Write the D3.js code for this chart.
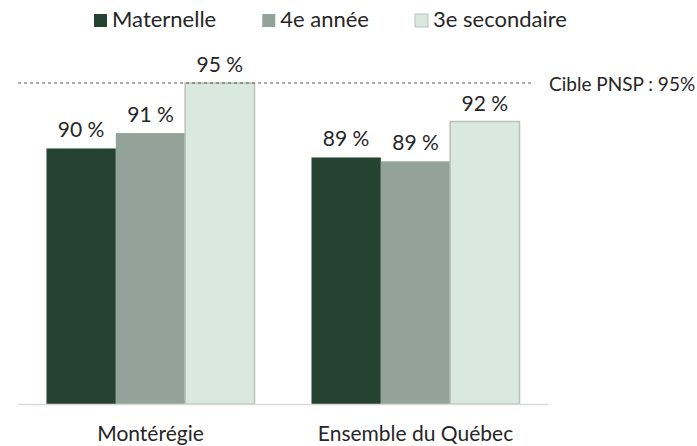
<!DOCTYPE html>
<html>
<head>
<meta charset="utf-8">
<script src="https://cdn.jsdelivr.net/npm/d3@7"></script>
<style>
  body { margin: 0; background: #fff; }
  svg { display: block; font-family: Lato, "Open Sans", sans-serif; }
</style>
</head>
<body>
<div id="chart"></div>
<script>
const regions = ["Montérégie", "Ensemble du Québec"];
const series = ["Maternelle", "4e année", "3e secondaire"];
const monteregie = [89.9, 91.1, 95.0];
const quebec = [89.2, 88.9, 92.0];
const target = 95;
const targetLabel = "Cible PNSP : 95%";
const colors = ["#264332", "#93a39a", "#d9e9e0"];

const data = regions.map((r, i) => ({
    region: r,
    values: series.map((s, j) => ({ key: s, value: [monteregie, quebec][i][j] }))
}));

const width = 697, height = 446;
const fontSize = 21;
const textColor = "#262626";

const svg = d3.select("#chart")
    .append("svg")
    .attr("width", width)
    .attr("height", height);

const x0 = d3.scaleBand()
    .domain(regions)
    .range([18, 548])
    .paddingInner(0.215)
    .paddingOuter(0.1075);

const x1 = d3.scaleBand()
    .domain(series)
    .range([0, x0.bandwidth()]);

const y = d3.scaleLinear()
    .domain([70, 95])
    .range([404, 83]);

const color = d3.scaleOrdinal()
    .domain(series)
    .range(colors);

const fmt = d => d3.format(".0f")(d) + " %";

// bars
const groups = svg.selectAll("g.group")
    .data(data)
    .join("g")
    .attr("class", "group")
    .attr("transform", d => `translate(${x0(d.region)},0)`);

groups.selectAll("rect")
    .data(d => d.values)
    .join("rect")
    .attr("x", d => x1(d.key))
    .attr("y", d => y(d.value))
    .attr("width", x1.bandwidth())
    .attr("height", d => y.range()[0] - y(d.value))
    .attr("fill", d => color(d.key))
    .attr("stroke", d => d.key === series[2] ? "#b9c1bc" : "none")
    .attr("stroke-width", 1.5);

groups.selectAll("text")
    .data(d => d.values)
    .join("text")
    .attr("x", d => x1(d.key) + x1.bandwidth() / 2)
    .attr("y", d => y(d.value) - 11)
    .attr("text-anchor", "middle")
    .style("font-size", fontSize + "px")
    .attr("fill", textColor)
    .text(d => fmt(d.value));

// x axis
const axisB = d3.axisBottom(x0)
    .tickSize(0)
    .tickPadding(22);

svg.append("g")
    .attr("transform", `translate(0,${y.range()[0]})`)
    .call(axisB)
    .call(g => g.select(".domain").attr("stroke", "#d9d9d9").attr("stroke-width", 1.5))
    .selectAll("text")
    .style("font-size", fontSize + "px")
    .style("font-family", "Lato, 'Open Sans', sans-serif")
    .attr("fill", textColor);

// target line
svg.append("line")
    .attr("x1", 18)
    .attr("x2", 533)
    .attr("y1", y(target))
    .attr("y2", y(target))
    .attr("stroke", "#595959")
    .attr("stroke-width", 1)
    .attr("stroke-dasharray", "3,3");

svg.append("text")
    .attr("x", 549)
    .attr("y", y(target) + 8)
    .style("font-size", "19px")
    .attr("fill", textColor)
    .text(targetLabel);

// legend
let lx = 94;
series.forEach(s => {
    svg.append("rect")
        .attr("x", lx)
        .attr("y", 14)
        .attr("width", 13)
        .attr("height", 13)
        .attr("fill", color(s))
        .attr("stroke", s === series[2] ? "#b9c1bc" : "none");
    const t = svg.append("text")
        .attr("x", lx + 18)
        .attr("y", 27)
        .style("font-size", "22px")
        .attr("fill", textColor)
        .text(s);
    lx += 18 + t.node().getComputedTextLength() + 46;
});
</script>
</body>
</html>
